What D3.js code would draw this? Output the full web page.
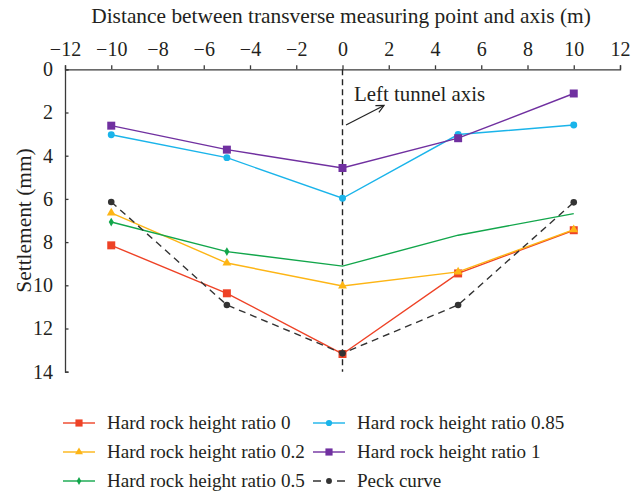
<!DOCTYPE html>
<html>
<head>
<meta charset="utf-8">
<script src="https://cdn.jsdelivr.net/npm/d3@7"></script>
<style>
  html, body { margin: 0; padding: 0; background: #fff; }
  svg { display: block; font-family: "Liberation Serif", "DejaVu Serif", serif; }
</style>
</head>
<body>
<svg id="chart" width="631" height="493"></svg>
<script>
// Transverse positions (m) relative to the left tunnel axis
const distances = [-10, -5, 0, 5, 10];

// Surface settlement (mm) for each hard rock height ratio
const ratio0   = [8.15, 10.37, 13.18, 9.45, 7.45];
const ratio02  = [6.65, 8.97, 10.03, 9.38, 7.42];
const ratio05  = [7.07, 8.44, 9.11, 7.68, 6.68];
const ratio085 = [3.03, 4.09, 5.97, 3.02, 2.58];
const ratio1   = [2.61, 3.72, 4.57, 3.19, 1.12];
const peck     = [6.14, 10.91, 13.15, 10.91, 6.16];

const seriesNames = [
  "Hard rock height ratio 0",
  "Hard rock height ratio 0.2",
  "Hard rock height ratio 0.5",
  "Hard rock height ratio 0.85",
  "Hard rock height ratio 1",
  "Peck curve"
];

const xTicks = [-12, -10, -8, -6, -4, -2, 0, 2, 4, 6, 8, 10, 12];
const yTicks = [0, 2, 4, 6, 8, 10, 12, 14];

const series = [
  { name: seriesNames[0], values: ratio0,   color: "#ee4226", symbol: d3.symbolSquare,   size: 64, dash: null, markAt: [0,1,2,3,4] },
  { name: seriesNames[1], values: ratio02,  color: "#fdb515", symbol: d3.symbolTriangle, size: 34, dash: null, markAt: [0,1,2,3,4] },
  { name: seriesNames[2], values: ratio05,  color: "#12a64b", symbol: d3.symbolDiamond,  size: 22, dash: null, markAt: [0,1] },
  { name: seriesNames[3], values: ratio085, color: "#1ab4ea", symbol: d3.symbolCircle,   size: 38, dash: null, markAt: [0,1,2,3,4] },
  { name: seriesNames[4], values: ratio1,   color: "#7030a0", symbol: d3.symbolSquare,   size: 64, dash: null, markAt: [0,1,2,3,4] },
  { name: seriesNames[5], values: peck,     color: "#333333", symbol: d3.symbolCircle,   size: 34, dash: "7,5", markAt: [0,1,2,3,4] }
];

const svg = d3.select("#chart");
const textColor = "#231f20";

const x = d3.scaleLinear().domain([-12, 12]).range([65, 620]);
const y = d3.scaleLinear().domain([0, 14]).range([69.3, 371.7]);

// Top x axis with outward ticks
const xAxis = svg.append("g")
  .attr("transform", `translate(0,${y(0)})`)
  .call(d3.axisTop(x).tickValues(xTicks).tickSize(4).tickSizeOuter(4)
    .tickFormat(d => d < 0 ? "\u2212" + Math.abs(d) : d));
xAxis.selectAll("text").attr("font-size", 20).attr("fill", textColor)
  .attr("y", -13).attr("dy", 0);

// Left y axis with inward ticks
const yAxis = svg.append("g")
  .attr("transform", `translate(${x(-12)},0)`)
  .call(d3.axisLeft(y).tickValues(yTicks).tickSize(-3.5).tickSizeOuter(-3.5).tickPadding(12));
yAxis.selectAll("text").attr("font-size", 20).attr("fill", textColor);

svg.selectAll(".domain, .tick line").attr("stroke", "#3a3a3a").attr("stroke-width", 1.3);
svg.selectAll(".tick text").attr("font-family", "Liberation Serif, serif");

// Axis titles
svg.append("text")
  .attr("x", 341).attr("y", 23)
  .attr("text-anchor", "middle").attr("font-size", 21.4).attr("fill", textColor)
  .text("Distance between transverse measuring point and axis (m)");

svg.append("text")
  .attr("transform", `translate(31,${(y(0) + y(14)) / 2}) rotate(-90)`)
  .attr("text-anchor", "middle").attr("font-size", 21.4).attr("fill", textColor)
  .text("Settlement (mm)");

// Tunnel axis reference line
svg.append("line")
  .attr("x1", x(0)).attr("x2", x(0))
  .attr("y1", y(0)).attr("y2", y(14))
  .attr("stroke", "#222").attr("stroke-width", 1.4).attr("stroke-dasharray", "6,4");

svg.append("text")
  .attr("x", 354).attr("y", 101)
  .attr("font-size", 20.9).attr("fill", textColor)
  .text("Left tunnel axis");

const defs = svg.append("defs");
defs.append("marker")
  .attr("id", "arrowhead").attr("viewBox", "0 0 10 10")
  .attr("refX", 9).attr("refY", 5)
  .attr("markerWidth", 8).attr("markerHeight", 8)
  .attr("orient", "auto")
  .append("path").attr("d", "M1,1 L9,5 L1,9")
  .attr("fill", "none").attr("stroke", "#222").attr("stroke-width", 1.3);

svg.append("line")
  .attr("x1", 346).attr("y1", 125).attr("x2", 384).attr("y2", 105.5)
  .attr("stroke", "#222").attr("stroke-width", 1.2)
  .attr("marker-end", "url(#arrowhead)");

// Series lines and markers
const line = d3.line().x((d, i) => x(distances[i])).y(d => y(d));
const symbolGen = d3.symbol();

series.forEach(s => {
  const g = svg.append("g");
  g.append("path")
    .datum(s.values)
    .attr("d", line)
    .attr("fill", "none")
    .attr("stroke", s.color)
    .attr("stroke-width", 1.4)
    .attr("stroke-dasharray", s.dash);
  g.selectAll("path.pt")
    .data(s.markAt)
    .join("path")
    .attr("class", "pt")
    .attr("transform", i => `translate(${x(distances[i])},${y(s.values[i])})`)
    .attr("d", symbolGen.type(s.symbol).size(s.size)())
    .attr("fill", s.color);
});

// Legend in two columns
const legendOrder = [0, 1, 2, 3, 4, 5];
const legendCols = [63, 313];
const legendRows = [423, 452, 481];
legendOrder.forEach((k, j) => {
  const s = series[k];
  const col = Math.floor(j / 3), row = j % 3;
  const lx = legendCols[col], ly = legendRows[row];
  const g = svg.append("g");
  g.append("line")
    .attr("x1", lx).attr("x2", lx + 32).attr("y1", ly).attr("y2", ly)
    .attr("stroke", s.color).attr("stroke-width", 1.4)
    .attr("stroke-dasharray", s.dash ? "8,16" : null);
  g.append("path")
    .attr("transform", `translate(${lx + 16},${ly})`)
    .attr("d", d3.symbol().type(s.symbol).size(s.size * 0.8)())
    .attr("fill", s.color);
  g.append("text")
    .attr("x", lx + 44).attr("y", ly + 6)
    .attr("font-size", 19.1).attr("fill", textColor)
    .text(s.name);
});
</script>
</body>
</html>
